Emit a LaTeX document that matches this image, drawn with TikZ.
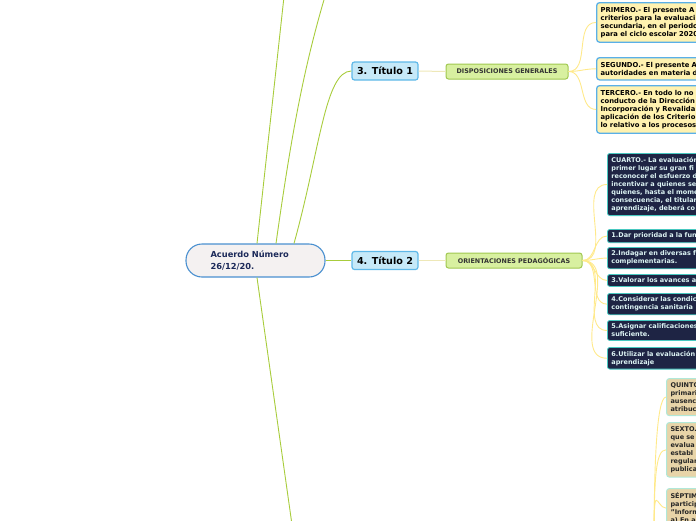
\documentclass[tikz,border=0pt]{standalone}
\usepackage{fontspec}
\setmainfont{DejaVu Sans}
\usetikzlibrary{positioning}
\definecolor{rootfill}{HTML}{F4F1F1}
\definecolor{rootedge}{HTML}{4A90D0}
\definecolor{rootnavy}{HTML}{1C2A5A}
\definecolor{titlefill}{HTML}{C6E9F8}
\definecolor{titleedge}{HTML}{5FB8E8}
\definecolor{topicfill}{HTML}{D8F0A0}
\definecolor{topicedge}{HTML}{A0C850}
\definecolor{topictext}{HTML}{333333}
\definecolor{notefill}{HTML}{FFF2B0}
\definecolor{noteedge}{HTML}{5AB0E8}
\definecolor{navyfill}{HTML}{1E2444}
\definecolor{navyedge}{HTML}{48C8C0}
\definecolor{navytext}{HTML}{DDF4F4}
\definecolor{tanfill}{HTML}{E8D4A8}
\definecolor{tanedge}{HTML}{B0E8D8}
\definecolor{greenline}{HTML}{A8CC3C}
\definecolor{yellowline}{HTML}{FFE98A}
\definecolor{beigeline}{HTML}{EEE8B8}
\tikzset{
  rootbox/.style={rectangle,rounded corners=16pt,draw=rootedge,line width=1.1pt,fill=rootfill,minimum width=139pt,minimum height=33pt,text width=90pt,align=left,font=\fontsize{8.3}{12}\selectfont\bfseries,text=rootnavy},
  titlebox/.style={rectangle,rounded corners=2.5pt,draw=titleedge,line width=1.2pt,fill=titlefill,minimum width=66pt,minimum height=18pt,inner sep=0pt,font=\fontsize{9.6}{11}\selectfont\bfseries},
  topicbox/.style={rectangle,rounded corners=2.5pt,draw=topicedge,line width=1pt,fill=topicfill,minimum height=15pt,inner sep=0pt,font=\fontsize{6.4}{7}\selectfont\bfseries,text=topictext},
  notebox/.style={rectangle,rounded corners=3pt,draw=noteedge,line width=1.3pt,fill=notefill,anchor=north west,text width=130pt,align=left,inner xsep=4pt,inner ysep=4.5pt,font=\fontsize{6.8}{8}\selectfont\bfseries},
  navybox/.style={rectangle,rounded corners=2.5pt,draw=navyedge,line width=0.8pt,fill=navyfill,anchor=north west,text width=120pt,align=left,inner xsep=4pt,inner ysep=3.5pt,text=navytext,font=\fontsize{6.5}{8.1}\selectfont\bfseries},
  tanbox/.style={rectangle,rounded corners=3pt,draw=tanedge,line width=1pt,fill=tanfill,anchor=north west,text width=60pt,align=left,inner xsep=4pt,inner ysep=4pt,text=black!85,font=\fontsize{6.5}{8.1}\selectfont\bfseries},
  mainlink/.style={draw=greenline,line width=0.9pt},
  sublink/.style={draw=beigeline,line width=1pt},
  leaflink/.style={draw=yellowline,line width=0.9pt}
}
\begin{document}
\begin{tikzpicture}[x=1pt,y=-1pt]
  \useasboundingbox (0,0) rectangle (696,520);
  \clip (0,0) rectangle (696,520);

  % root and titles
  \node[rootbox] (root) at (255.5,260.5) {Acuerdo Número\\26/12/20.};
  \node[titlebox] (tit1) at (385,71) {3. Título 1};
  \node[titlebox] (tit2) at (385,260.5) {4. Título 2};
  \node[topicbox,minimum width=122pt] (disp) at (507,71.5) {DISPOSICIONES GENERALES};
  \node[topicbox,minimum width=136pt] (orie) at (514,260.5) {ORIENTACIONES PEDAGÓGICAS};

  % branches leaving the picture
  \coordinate (up1) at (288,-40);
  \coordinate (up2) at (330,-20);
  \coordinate (down3) at (297,560);
  \coordinate (hub5) at (654,545);

  \draw[mainlink] ([xshift=1.5pt]root.north) -- (up1);
  \draw[mainlink] ([xshift=20.5pt]root.north) .. controls (292,130) and (305,60) .. (up2);
  \draw[mainlink] ([xshift=38.5pt]root.north) .. controls (320,150) and (325,71) .. (tit1.west);
  \draw[mainlink] (root.east) -- (tit2.west);
  \draw[mainlink] ([xshift=1.5pt]root.south) -- (down3);
  \draw[sublink] (tit1.east) -- (disp.west);
  \draw[sublink] (tit2.east) -- (orie.west);

  % disposiciones generales
  \node[notebox] (prim) at (596,2) {PRIMERO.- El presente A\\criterios para la evaluaci\\secundaria, en el periodo\\para el ciclo escolar 2020};
  \node[notebox] (segu) at (596,57) {SEGUNDO.- El presente A\\autoridades en materia d};
  \node[notebox] (terc) at (596,85) {TERCERO.- En todo lo no\\conducto de la Dirección\\Incorporación y Revalida\\aplicación de los Criterio\\lo relativo a los procesos};
  \foreach \leaf in {prim,segu,terc}
    \draw[leaflink] (disp.east) to[out=0,in=180] (\leaf.west);

  % orientaciones pedagogicas
  \node[navybox] (cuar) at (607,153) {CUARTO.- La evaluación\\primer lugar su gran fi\\reconocer el esfuerzo d\\incentivar a quienes se\\quienes, hasta el mome\\consecuencia, el titular\\aprendizaje, deberá co};
  \node[navybox] (ori1) at (607,229) {1.Dar prioridad a la fun};
  \node[navybox] (ori2) at (607,247) {2.Indagar en diversas f\\complementarias.};
  \node[navybox] (ori3) at (607,274) {3.Valorar los avances a};
  \node[navybox] (ori4) at (607,293) {4.Considerar las condic\\contingencia sanitaria};
  \node[navybox] (ori5) at (607,320) {5.Asignar calificaciones\\suficiente.};
  \node[navybox] (ori6) at (607,347) {6.Utilizar la evaluación\\aprendizaje};
  \foreach \leaf in {cuar,ori1,ori2,ori3,ori4,ori5,ori6}
    \draw[leaflink] (orie.east) to[out=0,in=180] (\leaf.west);

  % lower branch
  \node[tanbox] (quin) at (666,378) {QUINTO\\primari\\ausenc\\atribuc};
  \node[tanbox] (sext) at (666,422) {SEXTO.\\que se\\evalua\\establ\\regular\\publica};
  \node[tanbox] (sept) at (666,488) {SÉPTIM\\particip\\"Inform\\a) En a};
  \foreach \leaf in {quin,sext,sept}
    \draw[leaflink] (hub5) .. controls +(0,-70) and +(-10,0) .. (\leaf.west);
\end{tikzpicture}
\end{document}
